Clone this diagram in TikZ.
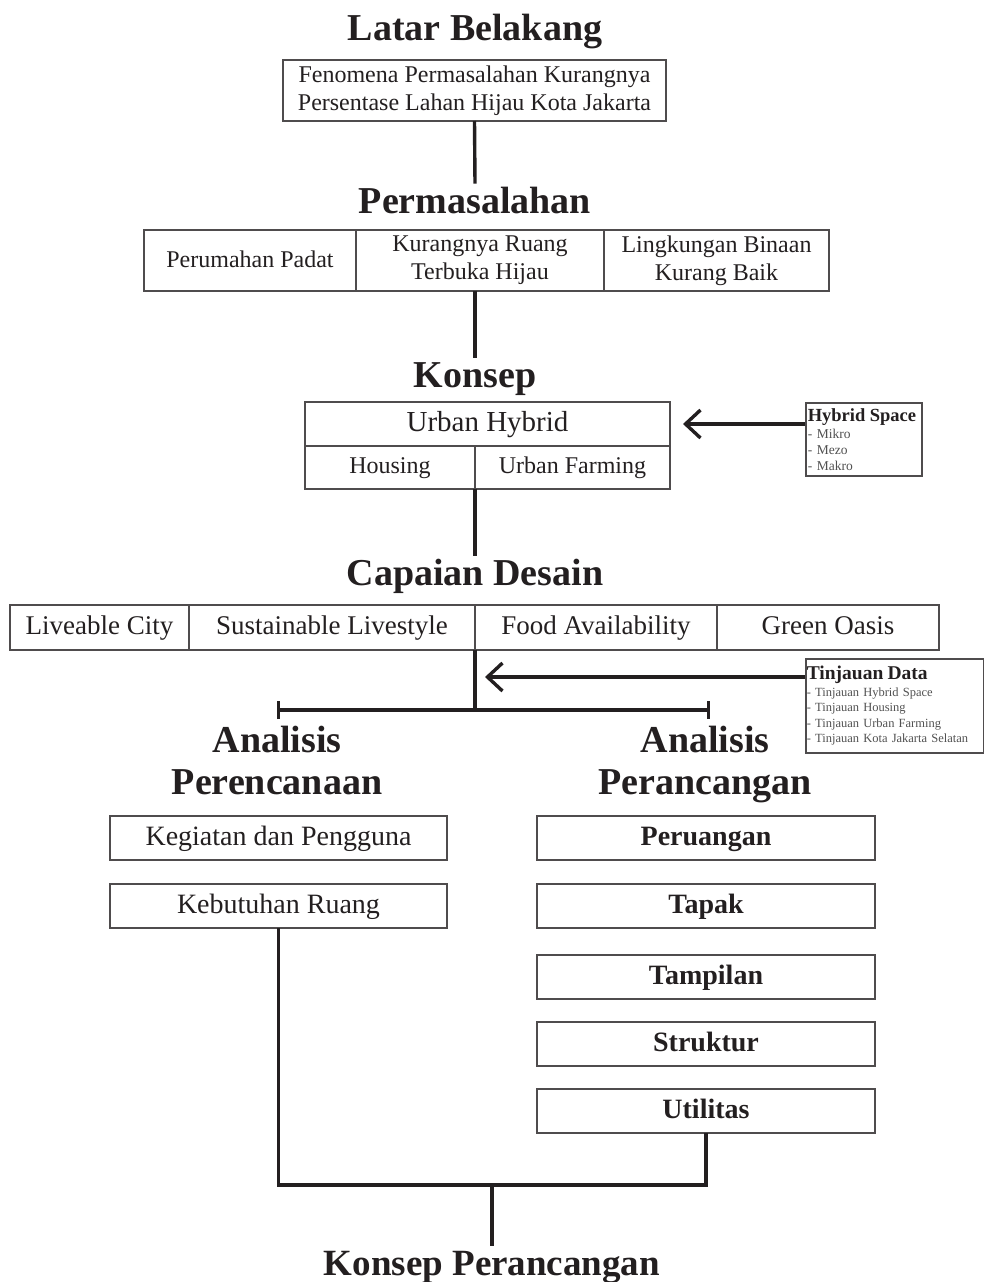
\documentclass[tikz,border=0pt]{standalone}
\usepackage{fontspec}
\setmainfont{Liberation Serif}
\usetikzlibrary{arrows.meta}
\definecolor{tinta}{HTML}{231F20}
\definecolor{abu}{HTML}{505050}
\begin{document}
\begin{tikzpicture}[x=1pt,y=-1pt,
    judul/.style={text=tinta, align=center, anchor=north, inner sep=0pt,
      font=\fontsize{38}{42}\selectfont\bfseries, execute at begin node=\strut},
    kotak/.style={draw=tinta!80, line width=1.6pt, inner sep=0pt, outer sep=0pt,
      text=tinta, align=center, font=\fontsize{24}{28}\selectfont,
      execute at begin node={\rule{0pt}{0.75em}},
      execute at end node={\rule[-0.2em]{0pt}{0pt}}},
    besar/.style={kotak, font=\fontsize{28}{32}\selectfont},
    kotaktebal/.style={kotak, font=\fontsize{28}{32}\selectfont\bfseries},
    catatan/.style={draw=tinta!80, line width=1.6pt, anchor=north west, inner sep=1pt,
      align=left, text=abu, font=\fontsize{13.5}{16}\selectfont},
    garis/.style={draw=tinta, line width=3.4pt},
    panah/.style={garis, -{Straight Barb[length=15pt,width=28pt,line width=3.4pt]}}]
  \useasboundingbox (0,0) rectangle (983,1282);

  % latar belakang
  \node[judul] (A0_0) at (475,40-29.4) {Latar Belakang};
  \node[kotak, minimum width=383, minimum height=61] (A1_0) at (474.5,90.5)
    {Fenomena Permasalahan Kurangnya\\Persentase Lahan Hijau Kota Jakarta};

  % permasalahan
  \node[judul] (A2_0) at (475,213-29.4) {Permasalahan};
  \node[kotak, minimum width=212, minimum height=61] (A3_0) at (250,260.5) {Perumahan Padat};
  \node[kotak, minimum width=248, minimum height=61] (A3_1) at (480,260.5) {Kurangnya Ruang\\Terbuka Hijau};
  \node[kotak, minimum width=225, minimum height=61] (A3_2) at (716.5,260.5) {Lingkungan Binaan\\Kurang Baik};

  % konsep
  \node[judul] (A4_0) at (475,387-29.4) {Konsep};
  \node[kotak, minimum width=365, minimum height=44, font=\fontsize{29}{32}\selectfont] (A5_0) at (487.5,424) {Urban Hybrid};
  \node[kotak, minimum width=170, minimum height=43] (A6_0) at (390,467.5) {Housing};
  \node[kotak, minimum width=195, minimum height=43] (A6_1) at (572.5,467.5) {Urban Farming};
  \node[catatan, minimum width=116, minimum height=73, text width=112] (B0_0) at (805,402)
    {{\fontsize{18.5}{19}\selectfont\bfseries\color{tinta}Hybrid Space}\\[1pt]
     - Mikro\\- Mezo\\- Makro};

  % capaian desain
  \node[judul] (A7_0) at (475,585-29.4) {Capaian Desain};
  \node[kotak, minimum width=179, minimum height=45, font=\fontsize{27}{30}\selectfont] (A8_0) at (99.5,627.5) {Liveable City};
  \node[kotak, minimum width=286, minimum height=45, font=\fontsize{27}{30}\selectfont] (A8_1) at (332,627.5) {Sustainable Livestyle};
  \node[kotak, minimum width=242, minimum height=45, font=\fontsize{27}{30}\selectfont] (A8_2) at (596,627.5) {Food Availability};
  \node[kotak, minimum width=222, minimum height=45, font=\fontsize{27}{30}\selectfont] (A8_3) at (828,627.5) {Green Oasis};
  \node[catatan, minimum width=178, minimum height=94, text width=176,
        font=\fontsize{12.5}{15.5}\selectfont] (B1_0) at (805,658)
    {{\fontsize{19.5}{19}\selectfont\bfseries\color{tinta}Tinjauan Data}\\[1pt]
     - Tinjauan Hybrid Space\\- Tinjauan Housing\\
     - Tinjauan Urban Farming\\- Tinjauan Kota Jakarta Selatan};
  \coordinate (C0_0) at (475,710);
  \coordinate (C0_1) at (277,710);
  \coordinate (C0_2) at (710,710);

  % analisis
  \node[judul] (A9_0) at (277,755-29.4) {Analisis\\Perencanaan};
  \node[judul] (A9_1) at (705,755-29.4) {Analisis\\Perancangan};
  \node[besar, minimum width=337, minimum height=44] (A10_0) at (278.5,838) {Kegiatan dan Pengguna};
  \node[besar, minimum width=337, minimum height=44] (A11_0) at (278.5,906) {Kebutuhan Ruang};
  \node[kotaktebal, minimum width=338, minimum height=44] (A10_1) at (706,838) {Peruangan};
  \node[kotaktebal, minimum width=338, minimum height=44] (A11_1) at (706,906) {Tapak};
  \node[kotaktebal, minimum width=338, minimum height=44] (A12_1) at (706,977) {Tampilan};
  \node[kotaktebal, minimum width=338, minimum height=44] (A13_1) at (706,1044) {Struktur};
  \node[kotaktebal, minimum width=338, minimum height=44] (A14_1) at (706,1111) {Utilitas};

  % konsep perancangan
  \coordinate (C1_0) at (492,1185);
  \node[judul, font=\fontsize{37}{42}\selectfont\bfseries] (A15_0) at (492,1275-29.4) {Konsep Perancangan};

  % garis penghubung
  \draw[garis] (A1_0.south) -- (A2_0.north);
  \draw[garis] (A3_1.south -| A2_0) -- (A4_0.north);
  \draw[garis] (A6_0.south east) -- (A7_0.north);
  \draw[panah] (B0_0.west |- A5_0) -- ([xshift=13]A5_0.east);
  \draw[garis] (A8_1.south east) -- (C0_0);
  \draw[garis, {Bar[width=18pt,line width=3pt]}-{Bar[width=18pt,line width=3pt]}] (C0_1) -- (C0_2);
  \draw[panah] (B1_0.west |- 0,677) -- (485,677);
  \draw[garis] (A11_0.south) |- (C1_0) -| (A14_1.south);
  \draw[garis] (C1_0) -- (A15_0.north);
\end{tikzpicture}
\end{document}
